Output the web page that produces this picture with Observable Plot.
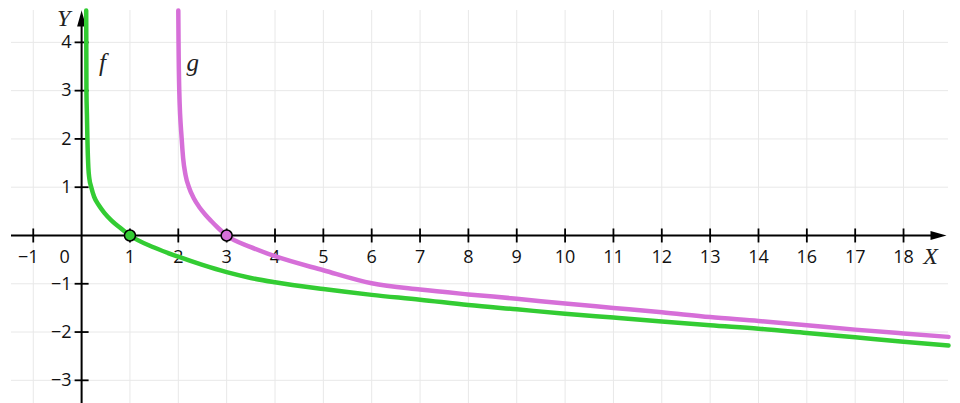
<!DOCTYPE html>
<html><head><meta charset="utf-8">
<script src="https://cdn.jsdelivr.net/npm/d3@7"></script>
<script src="https://cdn.jsdelivr.net/npm/@observablehq/plot@0.6"></script>
<style>body{margin:0;background:#fff} #chart svg{display:block}</style>
</head><body><div id="chart"></div>
<script>
// f curve (green)
const fX = [0.095, 0.10, 0.11, 0.12, 0.14, 0.16, 0.2, 0.26, 0.36, 0.47, 0.62, 0.81, 1, 1.5, 2, 2.5, 3, 3.5, 4, 5, 6, 7, 8, 9, 10, 11, 12, 13, 14, 15, 16, 17, 17.93];
const fY = [4.66, 3.0, 2.5, 2.0, 1.4, 1.18, 1.0, 0.8, 0.62, 0.47, 0.31, 0.15, 0, -0.25, -0.44, -0.61, -0.76, -0.88, -0.97, -1.11, -1.23, -1.33, -1.44, -1.53, -1.62, -1.70, -1.78, -1.86, -1.93, -2.02, -2.11, -2.20, -2.28];
// g curve (purple)
const gX = [2.0, 2.005, 2.02, 2.07, 2.10, 2.15, 2.22, 2.32, 2.44, 2.56, 2.68, 2.83, 3, 3.5, 4, 5, 6, 7, 8, 9, 10, 11, 12, 13, 14, 15, 16, 17, 17.93];
const gY = [4.66, 4.0, 3.0, 2.0, 1.6, 1.25, 1.0, 0.77, 0.58, 0.43, 0.3, 0.15, 0, -0.24, -0.43, -0.72, -0.99, -1.12, -1.22, -1.31, -1.41, -1.50, -1.59, -1.69, -1.77, -1.86, -1.95, -2.03, -2.10];
// axis ticks and labels (as printed in the picture)
const xTicks = [-1, 0, 1, 2, 3, 4, 5, 6, 7, 8, 9, 10, 11, 12, 13, 14, 15, 16, 17];
const xTickLabels = ["−1", "0", "1", "2", "3", "4", "5", "6", "7", "8", "9", "10", "11", "12", "13", "14", "16", "17", "18"];
const yTicks = [4, 3, 2, 1, -1, -2, -3];
const yTickLabels = ["4", "3", "2", "1", "−1", "−2", "−3"];
const roots = [{x: 1, y: 0, name: "f"}, {x: 3, y: 0, name: "g"}];
const curveNames = ["f", "g"];
const curveLabels = [{name: "f", x: 0.43, y: 3.58}, {name: "g", x: 2.3, y: 3.58}];
const xDomain = [-1.45, 17.93];
const yDomain = [-3.48, 4.66];

const colors = {f: "#33cc33", g: "#d66fd8"};
const curves = [
  ...fX.map((x, i) => ({name: "f", x, y: fY[i]})),
  ...gX.map((x, i) => ({name: "g", x, y: gY[i]}))
];
const xRows = xTicks.map((v, i) => ({v, label: xTickLabels[i]}));
const yRows = yTicks.map((v, i) => ({v, label: yTickLabels[i]}));

const arrowHead = {draw(ctx) { ctx.moveTo(0, 0); ctx.lineTo(4.5, 16); ctx.lineTo(-4.5, 16); ctx.closePath(); }};
const vTick = {draw(ctx) { ctx.moveTo(0, -7); ctx.lineTo(0, 7); }};
const hTick = {draw(ctx) { ctx.moveTo(-7, 0); ctx.lineTo(7, 0); }};

const font = "'Open Sans', 'DejaVu Sans', sans-serif";
const serif = "'Liberation Serif', 'DejaVu Serif', serif";
const fs = 18;

const chart = Plot.plot({
  width: 960, height: 403,
  marginLeft: 11, marginRight: 12, marginTop: 10, marginBottom: 0,
  x: {domain: xDomain, axis: null},
  y: {domain: yDomain, axis: null},
  style: {fontFamily: font, background: "#fff"},
  marks: [
    Plot.ruleX(xTicks, {stroke: "#e8e8e8", strokeWidth: 1}),
    Plot.ruleY(yTicks, {stroke: "#e8e8e8", strokeWidth: 1}),
    Plot.ruleY([0], {x1: xDomain[0], x2: xDomain[1] - 0.2, stroke: "#000", strokeWidth: 2}),
    Plot.ruleX([0], {y1: yDomain[0], y2: yDomain[1] - 0.2, stroke: "#000", strokeWidth: 2}),
    Plot.dot([0], {x: 0, y: yDomain[1], symbol: arrowHead, fill: "#000", stroke: "none"}),
    Plot.dot([0], {x: xDomain[1], y: 0, symbol: arrowHead, rotate: 90, fill: "#000", stroke: "none", dx: -2}),
    Plot.dot(xTicks.filter(v => v !== 0), {x: d => d, y: 0, symbol: vTick, fill: "none", stroke: "#000", strokeWidth: 1.8}),
    Plot.dot(yTicks, {x: 0, y: d => d, symbol: hTick, fill: "none", stroke: "#000", strokeWidth: 1.8}),
    Plot.text(xRows.filter(d => d.v > 0), {x: "v", y: 0, text: "label", dy: 22, fontSize: fs, fill: "#111"}),
    Plot.text(xRows.filter(d => d.v < 0), {x: "v", y: 0, text: "label", dy: 22, dx: -5, fontSize: fs, fill: "#111"}),
    Plot.text(xRows.filter(d => d.v === 0), {x: "v", y: 0, text: "label", dy: 22, dx: -17, fontSize: fs, fill: "#111"}),
    Plot.text(yRows, {x: 0, y: "v", text: "label", textAnchor: "end", dx: -10, fontSize: fs, fill: "#111"}),
    ...curveNames.map(n => Plot.line(curves.filter(d => d.name === n), {x: "x", y: "y", stroke: colors[n], strokeWidth: 4.5, curve: "monotone-x"})),
    Plot.dot(roots, {x: "x", y: "y", r: 5.5, fill: d => colors[d.name], stroke: "#000", strokeWidth: 1.5}),
    Plot.text(curveLabels, {x: "x", y: "y", text: "name", fontFamily: serif, fontStyle: "italic", fontSize: 25, fill: "#222"}),
    Plot.text(["Y"], {x: 0, y: yDomain[1], text: d => d, dx: -18, dy: 8, fontFamily: serif, fontStyle: "italic", fontSize: 24, fill: "#222"}),
    Plot.text(["X"], {x: xDomain[1], y: 0, text: d => d, dx: -18, dy: 21, fontFamily: serif, fontStyle: "italic", fontSize: 24, fill: "#222"})
  ]
});
document.getElementById("chart").append(chart);
</script>
</body></html>
